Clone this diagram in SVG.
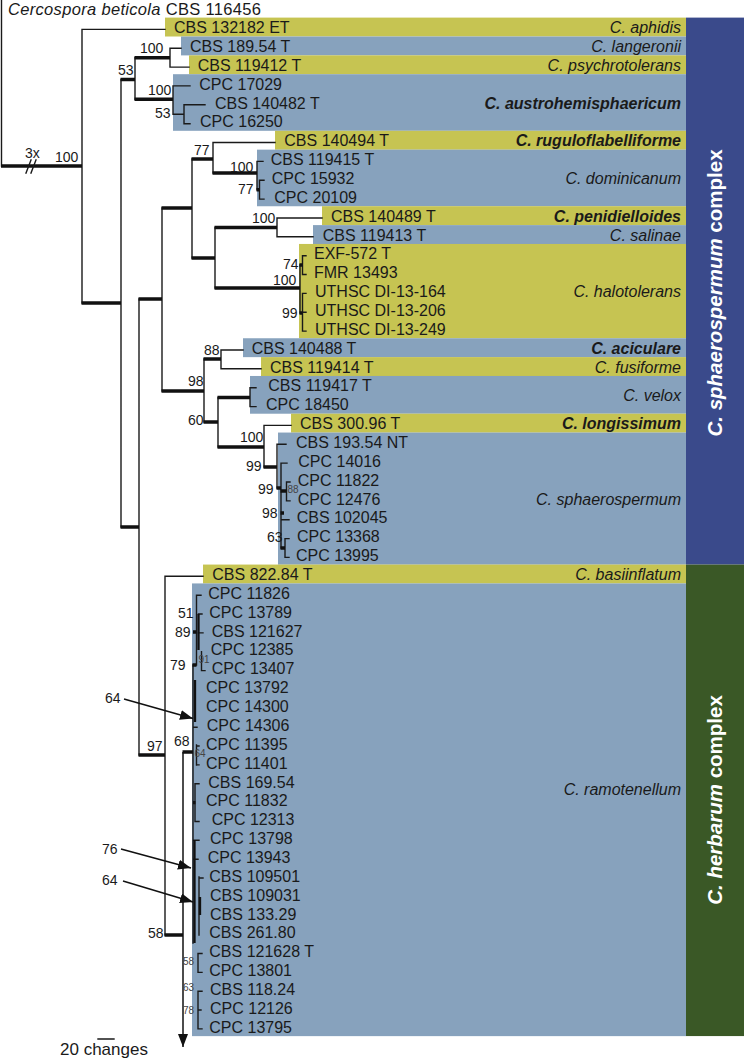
<svg xmlns="http://www.w3.org/2000/svg" width="744" height="1061" viewBox="0 0 744 1061">
<style>
.y{fill:#c6c452}
.b{fill:#87a2bd}
.t{stroke:#1a1a1a;stroke-width:1.4;fill:none;stroke-linecap:square}
.k{stroke:#111;stroke-width:3.4;fill:none}
.m{stroke:#111;stroke-width:2.3;fill:none}
.ar{stroke:#111;stroke-width:1.5;fill:none}
text{font-family:"Liberation Sans",Arial,Helvetica,sans-serif;fill:#1a1a1a}
.lab{font-size:16px}
.sp{font-size:16px;font-style:italic;text-anchor:end}
.bo{font-weight:bold}
.s{font-size:14px}
.ss{font-size:10px;fill:#444}
.cx{font-size:20.5px;font-weight:bold;fill:#fff;text-anchor:middle}
</style>
<defs>
<marker id="ah" markerUnits="userSpaceOnUse" markerWidth="13" markerHeight="10" refX="13" refY="5" orient="auto">
<path d="M0,0 L13,5 L0,10 z" fill="#111"/>
</marker>
</defs>
<rect width="744" height="1061" fill="#fff"/>

<g id="complex-sphaerospermum">
<rect x="686" y="17.6" width="58" height="547" fill="#3a4a8b"/>
<text class="cx" transform="translate(722,293) rotate(-90)"><tspan font-style="italic">C. sphaerospermum</tspan> complex</text>
</g>
<g id="complex-herbarum">
<rect x="686" y="564.57" width="58" height="471.5" fill="#3a5826"/>
<text class="cx" transform="translate(722,800) rotate(-90)"><tspan font-style="italic">C. herbarum</tspan> complex</text>
</g>

<g id="outgroup"><text class="lab" style="font-size:16.5px" x="8" y="14.5" textLength="253" lengthAdjust="spacing"><tspan font-style="italic">Cercospora beticola</tspan> CBS 116456</text></g>

<g id="aphidis"><rect class="y" x="165" y="17.6" width="521" height="18.9"/><text class="lab" x="174" y="33.1">CBS 132182 ET</text><text class="sp" x="681" y="33.1">C. aphidis</text></g>
<g id="langeronii"><rect class="b" x="181" y="36.5" width="505" height="18.9"/><text class="lab" x="190" y="51.9">CBS 189.54 T</text><text class="sp" x="681" y="51.9">C. langeronii</text></g>
<g id="psychrotolerans"><rect class="y" x="189" y="55.35" width="497" height="18.9"/><text class="lab" x="197.7" y="70.8">CBS 119412 T</text><text class="sp" x="681" y="70.8">C. psychrotolerans</text></g>
<g id="austrohemisphaericum"><rect class="b" x="173" y="74.2" width="513" height="56.6"/><text class="lab" x="199.3" y="89.6">CPC 17029</text><text class="lab" x="215" y="108.5">CBS 140482 T</text><text class="lab" x="200" y="127.4">CPC 16250</text><text class="sp bo" x="681" y="108.5">C. austrohemisphaericum</text></g>
<g id="ruguloflabelliforme"><rect class="y" x="275" y="130.8" width="411" height="18.9"/><text class="lab" x="284.3" y="146.2">CBS 140494 T</text><text class="sp bo" x="681" y="146.2">C. ruguloflabelliforme</text></g>
<g id="dominicanum"><rect class="b" x="257" y="149.65" width="429" height="56.6"/><text class="lab" x="270.7" y="165.1">CBS 119415 T</text><text class="lab" x="271.7" y="183.9">CPC 15932</text><text class="lab" x="274.3" y="202.8">CPC 20109</text><text class="sp" x="681" y="183.9">C. dominicanum</text></g>
<g id="penidielloides"><rect class="y" x="322" y="206.2" width="364" height="18.9"/><text class="lab" x="331" y="221.7">CBS 140489 T</text><text class="sp bo" x="681" y="221.7">C. penidielloides</text></g>
<g id="salinae"><rect class="b" x="313" y="225.1" width="373" height="18.9"/><text class="lab" x="322.7" y="240.5">CBS 119413 T</text><text class="sp" x="681" y="240.5">C. salinae</text></g>
<g id="halotolerans"><rect class="y" x="299" y="243.95" width="387" height="94.3"/><text class="lab" x="314" y="259.4">EXF-572 T</text><text class="lab" x="314" y="278.2">FMR 13493</text><text class="lab" x="315" y="297.1">UTHSC DI-13-164</text><text class="lab" x="315" y="316">UTHSC DI-13-206</text><text class="lab" x="315" y="334.8">UTHSC DI-13-249</text><text class="sp" x="681" y="297.1">C. halotolerans</text></g>
<g id="aciculare"><rect class="b" x="243" y="338.25" width="443" height="18.9"/><text class="lab" x="251.7" y="353.7">CBS 140488 T</text><text class="sp bo" x="681" y="353.7">C. aciculare</text></g>
<g id="fusiforme"><rect class="y" x="261" y="357.1" width="425" height="18.9"/><text class="lab" x="270" y="372.5">CBS 119414 T</text><text class="sp" x="681" y="372.5">C. fusiforme</text></g>
<g id="velox"><rect class="b" x="250" y="375.97" width="436" height="37.75"/><text class="lab" x="268.3" y="391.4">CBS 119417 T</text><text class="lab" x="266" y="410.3">CPC 18450</text><text class="sp" x="681" y="400.8">C. velox</text></g>
<g id="longissimum"><rect class="y" x="291" y="413.7" width="395" height="18.9"/><text class="lab" x="300" y="429.1">CBS 300.96 T</text><text class="sp bo" x="681" y="429.1">C. longissimum</text></g>
<g id="sphaerospermum"><rect class="b" x="278" y="432.55" width="408" height="132.1"/><text class="lab" x="296" y="448">CBS 193.54 NT</text><text class="lab" x="298.3" y="466.8">CPC 14016</text><text class="lab" x="297.7" y="485.7">CPC 11822</text><text class="lab" x="297.7" y="504.6">CPC 12476</text><text class="lab" x="296.7" y="523.4">CBS 102045</text><text class="lab" x="297" y="542.3">CPC 13368</text><text class="lab" x="296" y="561.1">CPC 13995</text><text class="sp" x="681" y="504.6">C. sphaerospermum</text></g>
<g id="basiinflatum"><rect class="y" x="203" y="564.57" width="483" height="18.9"/><text class="lab" x="212.3" y="580">CBS 822.84 T</text><text class="sp" x="681" y="580">C. basiinflatum</text></g>
<g id="ramotenellum"><rect class="b" x="192" y="583.43" width="494" height="452.7"/>
<text class="lab" x="208.3" y="598.9">CPC 11826</text>
<text class="lab" x="209.3" y="617.7">CPC 13789</text>
<text class="lab" x="211.7" y="636.6">CBS 121627</text>
<text class="lab" x="210.7" y="655.4">CPC 12385</text>
<text class="lab" x="211.7" y="674.3">CPC 13407</text>
<text class="lab" x="206" y="693.2">CPC 13792</text>
<text class="lab" x="206" y="712">CPC 14300</text>
<text class="lab" x="206.7" y="730.9">CPC 14306</text>
<text class="lab" x="206" y="749.7">CPC 11395</text>
<text class="lab" x="206" y="768.6">CPC 11401</text>
<text class="lab" x="208.3" y="787.5">CBS 169.54</text>
<text class="lab" x="206" y="806.3">CPC 11832</text>
<text class="lab" x="211.7" y="825.2">CPC 12313</text>
<text class="lab" x="210" y="844">CPC 13798</text>
<text class="lab" x="207.7" y="862.9">CPC 13943</text>
<text class="lab" x="209.3" y="881.8">CBS 109501</text>
<text class="lab" x="210" y="900.6">CBS 109031</text>
<text class="lab" x="210" y="919.5">CBS 133.29</text>
<text class="lab" x="209.3" y="938.3">CBS 261.80</text>
<text class="lab" x="209.3" y="957.2">CBS 121628 T</text>
<text class="lab" x="209.3" y="976.1">CPC 13801</text>
<text class="lab" x="210" y="994.9">CBS 118.24</text>
<text class="lab" x="210" y="1013.8">CPC 12126</text>
<text class="lab" x="209.3" y="1032.6">CPC 13795</text>
<text class="sp" x="681" y="795">C. ramotenellum</text>
</g>

<g id="connectors">
<path class="t" d="M1.5,0 V166 M82,29.4 V303 M82,29.4 H165 M121,79.5 V527 M135,57.7 V99.3 M170,48.2 V67.1 M170,48.2 H181 M170,67.1 H189 M173,85.9 V114.2 M173,85.9 H190 M173,114.2 H184 M184,104.8 V123.7 M184,104.8 H205 M184,123.7 H190 M139,299 V755 M162,208 V391 M192,159 V258 M213,142.5 V173 M213,142.5 H275 M257,161.4 V189.7 M257,161.4 H263 M259.5,180.2 V199.1 M259.5,180.2 H264 M259.5,199.1 H264 M215,227.5 V288 M277,218 V236.8 M277,218 H322 M277,236.8 H313 M300,265 V313 M302.5,255.7 V274.5 M302.5,255.7 H306 M302.5,274.5 H306 M302.5,293.4 V331.1 M302.5,293.4 H306 M302.5,312.3 H306 M302.5,331.1 H306 M204,359 V422 M221,350 V368.8 M221,350 H243 M221,368.8 H261 M218,397.5 V447 M250,387.7 V406.6 M250,387.7 H256 M250,406.6 H256 M264,425.4 V467 M264,425.4 H291 M277,444.3 V488 M277,444.3 H286 M281,463.1 V548 M281,463.1 H287 M286.5,482 V500.9 M286.5,482 H290 M286.5,500.9 H290 M281,519.7 H289 M285,538.6 V557.4 M285,538.6 H289 M285,557.4 H289 M165,576.3 V935 M165,576.3 H203 M193,665 V943 M196.5,595.2 V665 M196.5,595.2 H201 M198.5,614 H202 M198.5,632.9 H203 M201.5,651.7 V670.6 M201.5,670.6 H205 M193,727.2 H197 M196.5,745 V765 M196.5,746 H199 M196.5,764.9 H199 M195,783.8 V821.5 M195,783.8 H199 M195,821.5 H199 M193,840.3 H199 M193,859.2 H198 M199,877 V935 M199,878 H203 M198,953.5 V972.4 M198,953.5 H202 M198,972.4 H202 M198,991.2 V1028.9 M198,991.2 H202 M198,1010 H201 M198,1028.9 H202 M98,1039 H114"/>
<path class="k" d="M1,166 H82 M81.5,303 H121 M120.5,79.5 H135 M134.5,57.7 H170 M134.5,99.3 H173 M120.5,527 H139 M138.5,299 H162 M161.5,208 H192 M191.5,159 H213 M212.5,173 H257 M256.5,189.7 H259.5 M191.5,258 H215 M214.5,227.5 H277 M214.5,288 H300 M299.5,265 H302.5 M299.5,313 H302.5 M161.5,391 H204 M203.5,359 H221 M203.5,422 H218 M217.5,397.5 H250 M217.5,447 H264 M263.5,467 H277 M276.5,488 H281 M280.5,491 H286.5 M280.5,513 H284 M280.5,548 H285 M138.5,755 H165 M164.5,935 H183 M182.5,752 H193 M192.5,665 H196.5 M193,632 H196.5 M193,802.6 H195.5"/>
<path class="m" d="M195,680 V722 M198.5,614 V650 M200,897 V915 M194.5,840 V943"/>
<path class="t" d="M26,173 L31,160 M31,173 L36,160"/>
<path class="ar" d="M183,752 V1047" marker-end="url(#ah)"/>
<path class="ar" d="M124,699 L193,718.5" marker-end="url(#ah)"/>
<path class="ar" d="M121,849 L191,868" marker-end="url(#ah)"/>
<path class="ar" d="M123,881 L193,902" marker-end="url(#ah)"/>
</g>

<g id="support">
<text class="s" x="25" y="158">3x</text>
<text class="s" x="55" y="161.5">100</text>
<text class="s" x="118" y="75">53</text>
<text class="s" x="140" y="53">100</text>
<text class="s" x="148" y="95">100</text>
<text class="s" x="155" y="118">53</text>
<text class="s" x="194" y="155">77</text>
<text class="s" x="230" y="172">100</text>
<text class="s" x="238" y="194">77</text>
<text class="s" x="252" y="222.7">100</text>
<text class="s" x="283" y="268.5">74</text>
<text class="s" x="273" y="284.5">100</text>
<text class="s" x="282" y="317.7">99</text>
<text class="s" x="204" y="355">88</text>
<text class="s" x="188" y="385.7">98</text>
<text class="s" x="188" y="425">60</text>
<text class="s" x="240" y="441.7">100</text>
<text class="s" x="246" y="470.7">99</text>
<text class="s" x="258" y="494">99</text>
<text class="ss" x="287.5" y="493">88</text>
<text class="s" x="262" y="518">98</text>
<text class="s" x="267" y="541.7">63</text>
<text class="s" x="178" y="618">51</text>
<text class="s" x="175" y="637">89</text>
<text class="s" x="170" y="670">79</text>
<text class="ss" x="198.5" y="663">91</text>
<text class="s" x="105" y="702.7">64</text>
<text class="s" x="174" y="746">68</text>
<text class="s" x="147" y="751">97</text>
<text class="ss" x="194.5" y="757">64</text>
<text class="s" x="102" y="854">76</text>
<text class="s" x="102" y="885">64</text>
<text class="s" x="148" y="938">58</text>
<text class="ss" x="183" y="965">58</text>
<text class="ss" x="183" y="991">63</text>
<text class="ss" x="183" y="1014">78</text>
<text style="font-size:17px" x="60" y="1055">20 changes</text>
</g>
</svg>
